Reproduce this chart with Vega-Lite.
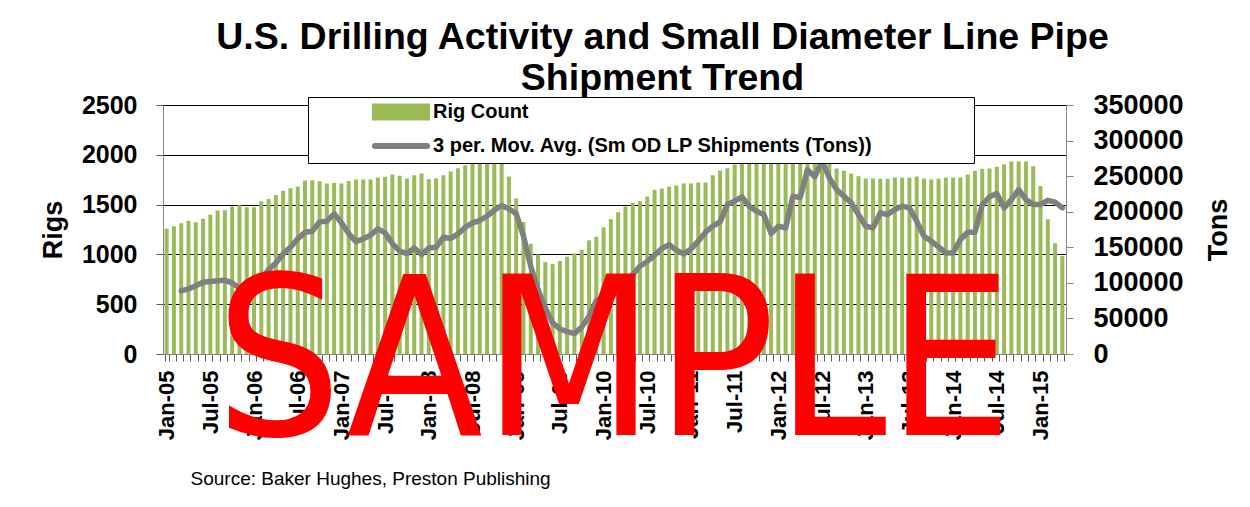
{
  "$schema": "https://vega.github.io/schema/vega-lite/v6.json",
  "autosize": {"type": "none"},
  "width": 903,
  "height": 249,
  "padding": {"left": 163, "top": 105, "right": 184, "bottom": 153},
  "background": "white",
  "config": {"view": {"stroke": null}},
  "title": {
    "text": ["U.S. Drilling Activity and Small Diameter Line Pipe", "Shipment Trend"],
    "font": "Liberation Sans", "fontSize": 37.5, "fontWeight": "bold", "color": "black",
    "lineHeight": 41, "anchor": "middle", "frame": "group", "dx": 48, "offset": -6
  },
  "data": {"values": [
    {"month":"Jan-05","rigs":1259,"tons":null},{"month":"Feb-05","rigs":1282,"tons":null},{"month":"Mar-05","rigs":1312,"tons":88600},{"month":"Apr-05","rigs":1339,"tons":91500},{"month":"May-05","rigs":1322,"tons":96000},{"month":"Jun-05","rigs":1359,"tons":100800},{"month":"Jul-05","rigs":1399,"tons":102000},{"month":"Aug-05","rigs":1440,"tons":103000},{"month":"Sep-05","rigs":1443,"tons":103600},{"month":"Oct-05","rigs":1480,"tons":99900},{"month":"Nov-05","rigs":1493,"tons":92900},{"month":"Dec-05","rigs":1473,"tons":87700},
    {"month":"Jan-06","rigs":1473,"tons":92400},{"month":"Feb-06","rigs":1534,"tons":105500},{"month":"Mar-06","rigs":1557,"tons":118700},{"month":"Apr-06","rigs":1597,"tons":128000},{"month":"May-06","rigs":1638,"tons":140700},{"month":"Jun-06","rigs":1665,"tons":150000},{"month":"Jul-06","rigs":1681,"tons":161800},{"month":"Aug-06","rigs":1742,"tons":171200},{"month":"Sep-06","rigs":1745,"tons":172600},{"month":"Oct-06","rigs":1735,"tons":185700},{"month":"Nov-06","rigs":1712,"tons":186700},{"month":"Dec-06","rigs":1718,"tons":197000},
    {"month":"Jan-07","rigs":1712,"tons":184300},{"month":"Feb-07","rigs":1738,"tons":169300},{"month":"Mar-07","rigs":1752,"tons":158000},{"month":"Apr-07","rigs":1752,"tons":161800},{"month":"May-07","rigs":1752,"tons":167000},{"month":"Jun-07","rigs":1772,"tons":175900},{"month":"Jul-07","rigs":1779,"tons":170200},{"month":"Aug-07","rigs":1802,"tons":155200},{"month":"Sep-07","rigs":1789,"tons":144500},{"month":"Oct-07","rigs":1762,"tons":141200},{"month":"Nov-07","rigs":1795,"tons":149100},{"month":"Dec-07","rigs":1812,"tons":139800},
    {"month":"Jan-08","rigs":1755,"tons":149100},{"month":"Feb-08","rigs":1765,"tons":150000},{"month":"Mar-08","rigs":1795,"tons":164200},{"month":"Apr-08","rigs":1832,"tons":162300},{"month":"May-08","rigs":1866,"tons":168800},{"month":"Jun-08","rigs":1896,"tons":178200},{"month":"Jul-08","rigs":1940,"tons":184300},{"month":"Aug-08","rigs":1980,"tons":187600},{"month":"Sep-08","rigs":2031,"tons":194000},{"month":"Oct-08","rigs":1985,"tons":202000},{"month":"Nov-08","rigs":1960,"tons":208700},{"month":"Dec-08","rigs":1782,"tons":204000},
    {"month":"Jan-09","rigs":1561,"tons":197400},{"month":"Feb-09","rigs":1326,"tons":165600},{"month":"Mar-09","rigs":1107,"tons":123300},{"month":"Apr-09","rigs":1000,"tons":90500},{"month":"May-09","rigs":923,"tons":64700},{"month":"Jun-09","rigs":903,"tons":43600},{"month":"Jul-09","rigs":933,"tons":35200},{"month":"Aug-09","rigs":977,"tons":31400},{"month":"Sep-09","rigs":1010,"tons":28600},{"month":"Oct-09","rigs":1047,"tons":38000},{"month":"Nov-09","rigs":1141,"tons":53000},{"month":"Dec-09","rigs":1178,"tons":75500},
    {"month":"Jan-10","rigs":1272,"tons":78800},{"month":"Feb-10","rigs":1352,"tons":81000},{"month":"Mar-10","rigs":1423,"tons":85000},{"month":"Apr-10","rigs":1480,"tons":95000},{"month":"May-10","rigs":1517,"tons":111600},{"month":"Jun-10","rigs":1534,"tons":123300},{"month":"Jul-10","rigs":1581,"tons":130000},{"month":"Aug-10","rigs":1648,"tons":138800},{"month":"Sep-10","rigs":1661,"tons":148200},{"month":"Oct-10","rigs":1678,"tons":153800},{"month":"Nov-10","rigs":1691,"tons":145900},{"month":"Dec-10","rigs":1712,"tons":140700},
    {"month":"Jan-11","rigs":1712,"tons":147700},{"month":"Feb-11","rigs":1722,"tons":158500},{"month":"Mar-11","rigs":1722,"tons":171200},{"month":"Apr-11","rigs":1795,"tons":179600},{"month":"May-11","rigs":1842,"tons":185700},{"month":"Jun-11","rigs":1866,"tons":210000},{"month":"Jul-11","rigs":1903,"tons":214800},{"month":"Aug-11","rigs":1960,"tons":220900},{"month":"Sep-11","rigs":1982,"tons":207800},{"month":"Oct-11","rigs":2002,"tons":200700},{"month":"Nov-11","rigs":2004,"tons":196000},{"month":"Dec-11","rigs":2006,"tons":169300},
    {"month":"Jan-12","rigs":2003,"tons":179600},{"month":"Feb-12","rigs":1989,"tons":177300},{"month":"Mar-12","rigs":1977,"tons":221800},{"month":"Apr-12","rigs":1961,"tons":220000},{"month":"May-12","rigs":1981,"tons":259000},{"month":"Jun-12","rigs":1971,"tons":249000},{"month":"Jul-12","rigs":1955,"tons":271000},{"month":"Aug-12","rigs":1916,"tons":247600},{"month":"Sep-12","rigs":1863,"tons":231000},{"month":"Oct-12","rigs":1839,"tons":221800},{"month":"Nov-12","rigs":1812,"tons":212500},{"month":"Dec-12","rigs":1785,"tons":196000},
    {"month":"Jan-13","rigs":1762,"tons":179600},{"month":"Feb-13","rigs":1762,"tons":177300},{"month":"Mar-13","rigs":1759,"tons":198400},{"month":"Apr-13","rigs":1759,"tons":196000},{"month":"May-13","rigs":1772,"tons":203000},{"month":"Jun-13","rigs":1769,"tons":207800},{"month":"Jul-13","rigs":1769,"tons":205400},{"month":"Aug-13","rigs":1782,"tons":186700},{"month":"Sep-13","rigs":1762,"tons":165600},{"month":"Oct-13","rigs":1752,"tons":158500},{"month":"Nov-13","rigs":1759,"tons":150500},{"month":"Dec-13","rigs":1772,"tons":142000},
    {"month":"Jan-14","rigs":1772,"tons":142000},{"month":"Feb-14","rigs":1772,"tons":160900},{"month":"Mar-14","rigs":1802,"tons":171200},{"month":"Apr-14","rigs":1839,"tons":171200},{"month":"May-14","rigs":1859,"tons":210000},{"month":"Jun-14","rigs":1863,"tons":220900},{"month":"Jul-14","rigs":1879,"tons":225600},{"month":"Aug-14","rigs":1906,"tons":205400},{"month":"Sep-14","rigs":1933,"tons":217000},{"month":"Oct-14","rigs":1933,"tons":231000},{"month":"Nov-14","rigs":1933,"tons":217000},{"month":"Dec-14","rigs":1886,"tons":210000},
    {"month":"Jan-15","rigs":1688,"tons":210000},{"month":"Feb-15","rigs":1352,"tons":216000},{"month":"Mar-15","rigs":1111,"tons":213400},{"month":"Apr-15","rigs":983,"tons":205400}
  ]},
  "layer": [
    {
      "mark": {"type": "bar", "color": "#9BBB59"},
      "encoding": {
        "x": {
          "field": "month", "type": "ordinal", "sort": null,
          "scale": {"paddingInner": 0.45, "paddingOuter": 0.225},
          "axis": {
            "title": "Source:  Baker Hughes, Preston Publishing",
            "titleFont": "Liberation Sans", "titleFontSize": 19, "titleFontWeight": "normal", "titleColor": "black",
            "titleAnchor": "start", "titleAlign": "left", "titleX": 27, "titleY": 130, "titleBaseline": "alphabetic",
            "labelAngle": 270, "labelAlign": "right", "labelBaseline": "middle",
            "labelFont": "Liberation Sans", "labelFontSize": 22, "labelFontWeight": "bold", "labelColor": "black",
            "labelPadding": 9, "labelOverlap": false,
            "labelExpr": "(substring(datum.label,0,3) === 'Jan' || substring(datum.label,0,3) === 'Jul') ? datum.label : ''",
            "tickSize": 7, "tickBand": "extent", "tickColor": "#595959", "domainColor": "#868686", "grid": false
          }
        },
        "y": {
          "field": "rigs", "type": "quantitative",
          "scale": {"domain": [0, 2500], "nice": false},
          "axis": {
            "title": "Rigs", "titleFont": "Liberation Sans", "titleFontSize": 27, "titleFontWeight": "bold", "titleColor": "black",
            "titlePadding": 14,
            "values": [0, 500, 1000, 1500, 2000, 2500], "format": "d",
            "labelFont": "Liberation Sans", "labelFontSize": 25, "labelFontWeight": "bold", "labelColor": "black",
            "labelPadding": 19, "tickSize": 7, "tickColor": "#595959", "domainColor": "#868686",
            "grid": true, "gridColor": "#000000", "gridWidth": 1
          }
        },
        "color": {
          "datum": "Rig Count", "type": "nominal",
          "scale": {"domain": ["Rig Count", "3 per. Mov. Avg. (Sm OD LP Shipments (Tons))"], "range": ["#9BBB59", "#808080"]},
          "legend": {
            "orient": "none", "legendX": 145, "legendY": -8, "direction": "vertical", "title": null,
            "fillColor": "white", "strokeColor": "black", "padding": 5, "rowPadding": 4,
            "labelFont": "Liberation Sans", "labelFontSize": 20, "labelFontWeight": "bold", "labelColor": "black",
            "labelLimit": 800, "labelOffset": 22, "symbolOffset": 78, "symbolSize": 196, "symbolStrokeWidth": 6,
            "encode": {
              "symbols": {
                "update": {
                  "shape": {"signal": "datum.value === 'Rig Count' ? 'M-3.714,-0.786H3.714V0.786H-3.714Z M79.4,0' : 'M-3.714,0H3.714'"},
                  "fill": {"signal": "datum.value === 'Rig Count' ? '#9BBB59' : 'transparent'"},
                  "stroke": {"signal": "datum.value === 'Rig Count' ? 'transparent' : '#808080'"},
                  "strokeCap": {"value": "round"},
                  "opacity": {"value": 1}
                }
              }
            }
          }
        }
      }
    },
    {
      "mark": {"type": "line", "strokeWidth": 5.5, "strokeJoin": "round", "strokeCap": "round"},
      "encoding": {
        "x": {"field": "month", "type": "ordinal", "sort": null},
        "y": {
          "field": "tons", "type": "quantitative",
          "scale": {"domain": [0, 350000], "nice": false},
          "axis": {
            "orient": "right",
            "title": "Tons", "titleFont": "Liberation Sans", "titleFontSize": 27, "titleFontWeight": "bold", "titleColor": "black",
            "titleAngle": 270, "titleBaseline": "top", "titlePadding": 22,
            "values": [0, 50000, 100000, 150000, 200000, 250000, 300000, 350000], "format": "d",
            "labelFont": "Liberation Sans", "labelFontSize": 27, "labelFontWeight": "bold", "labelColor": "black",
            "labelPadding": 20, "tickSize": 7, "tickColor": "#868686", "domainColor": "#868686", "grid": false
          }
        },
        "color": {"datum": "3 per. Mov. Avg. (Sm OD LP Shipments (Tons))", "type": "nominal"}
      }
    },
    {
      "data": {"values": [{"word": "SAMPLE"}]},
      "mark": {"type": "text", "font": "DejaVu Sans Condensed, Liberation Sans", "fontSize": 222, "color": "#FF0000", "align": "center", "baseline": "alphabetic", "dx": -4},
      "encoding": {
        "x": {"datum": "Mar-10", "type": "ordinal"},
        "y": {"datum": -813, "type": "quantitative", "scale": {"domain": [0, 2500], "nice": false}, "axis": null},
        "text": {"field": "word"}
      }
    }
  ],
  "resolve": {"scale": {"y": "independent"}}
}
